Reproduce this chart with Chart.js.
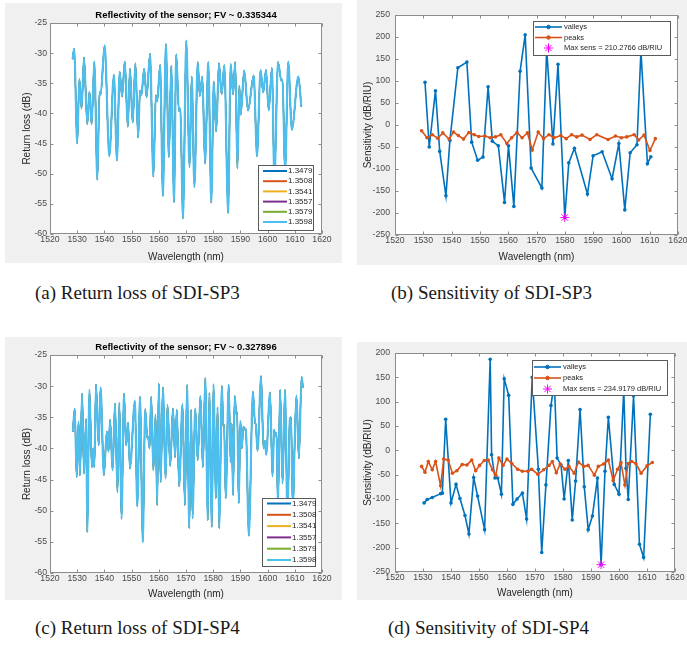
<!DOCTYPE html>
<html>
<head>
<meta charset="utf-8">
<script src="https://cdn.jsdelivr.net/npm/chart.js@4.4.1/dist/chart.umd.min.js"></script>
<style>
  body { margin: 0; background: #fff; width: 687px; height: 650px; position: relative; overflow: hidden; }
  canvas { position: absolute; }
  .cap { position: absolute; font-family: "Liberation Serif", "Times New Roman", serif; font-size: 19px; line-height: 20px; color: #1a1a1a; white-space: nowrap; }
</style>
</head>
<body>
<canvas id="chartA" width="337" height="260" style="left:5px;top:3px"></canvas>
<canvas id="chartB" width="330" height="265" style="left:357px;top:0px"></canvas>
<canvas id="chartC" width="337" height="263" style="left:5px;top:337px"></canvas>
<canvas id="chartD" width="330" height="258" style="left:357px;top:342px"></canvas>
<div class="cap" style="left:35px;top:283px">(a) Return loss of SDI-SP3</div>
<div class="cap" style="left:391px;top:283px">(b) Sensitivity of SDI-SP3</div>
<div class="cap" style="left:35px;top:618px">(c) Return loss of SDI-SP4</div>
<div class="cap" style="left:388px;top:618px">(d) Sensitivity of SDI-SP4</div>
<script>
'use strict';

// DATA

let wavelengthTicks = [1520, 1530, 1540, 1550, 1560, 1570, 1580, 1590, 1600, 1610, 1620];
let returnLossTicks = [-60, -55, -50, -45, -40, -35, -30, -25];
let sensTicksB = [-250, -200, -150, -100, -50, 0, 50, 100, 150, 200, 250];
let sensTicksD = [-250, -200, -150, -100, -50, 0, 50, 100, 150, 200];

let riLabels = ['1.3479', '1.3508', '1.3541', '1.3557', '1.3579', '1.3598'];
let riColors = ['#0072BD', '#D95319', '#EDB120', '#7E2F8E', '#77AC30', '#4DBEEE'];

// (a) return loss SDI-SP3, turning points of the spectrum
let rlA_wl = [1528.3, 1528.9, 1530.0, 1530.8, 1531.6, 1532.5, 1533.7, 1534.5, 1535.3, 1536.3,
  1537.4, 1538.2, 1538.6, 1540.1, 1541.8, 1543.5, 1544.6, 1545.6, 1546.5, 1547.5,
  1548.6, 1549.4, 1550.4, 1551.4, 1552.4, 1553.1, 1553.6, 1554.6, 1555.5, 1556.8,
  1558.0, 1558.9, 1559.4, 1560.5, 1561.5, 1562.6, 1563.7, 1564.6, 1565.6, 1566.4,
  1567.4, 1567.9, 1568.9, 1570.1, 1571.3, 1572.1, 1573.1, 1574.3, 1575.1, 1576.0,
  1577.0, 1578.2, 1579.3, 1580.2, 1581.1, 1582.1, 1583.1, 1584.1, 1585.5, 1586.4,
  1587.3, 1588.1, 1588.9, 1589.6, 1590.1, 1591.4, 1592.8, 1594.9, 1596.1, 1597.4,
  1598.4, 1599.4, 1600.4, 1601.6, 1602.5, 1603.8, 1605.1, 1605.5, 1606.4, 1607.6,
  1608.9, 1611.3, 1612.4];
let rlA_db = [-31.0, -29.3, -45.0, -34.3, -39.2, -30.7, -41.8, -36.4, -41.8, -31.4,
  -51.0, -36.4, -36.9, -28.7, -47.1, -33.6, -47.8, -33.1, -37.2, -31.4,
  -42.2, -32.6, -41.5, -31.7, -44.0, -36.2, -37.0, -32.6, -37.3, -30.1,
  -50.5, -37.0, -38.0, -32.0, -53.7, -28.5, -47.2, -32.1, -54.7, -30.2,
  -39.6, -39.2, -57.4, -27.9, -48.9, -33.9, -52.2, -31.5, -37.1, -33.9,
  -48.3, -31.5, -54.8, -34.7, -43.0, -31.7, -36.8, -32.0, -56.5, -31.8,
  -36.8, -31.5, -49.1, -35.4, -40.2, -32.9, -39.5, -33.7, -47.1, -32.8,
  -36.5, -32.8, -39.5, -32.5, -51.0, -31.5, -34.6, -34.4, -50.0, -31.4,
  -42.7, -33.9, -38.9];

// (b) sensitivity SDI-SP3
let valleysB_wl = [1530.6, 1532.1, 1534.3, 1535.8, 1538.0, 1539.4, 1542.2, 1545.4, 1547.1, 1549.2,
  1551.1, 1552.9, 1554.4, 1556.5, 1558.7, 1560.1, 1562.0, 1564.2, 1566.0, 1568.1,
  1571.9, 1573.6, 1575.8, 1577.6, 1580.0, 1581.4, 1583.4, 1588.0, 1590.0, 1593.2,
  1596.7, 1599.1, 1601.2, 1603.1, 1605.5, 1606.9, 1609.2, 1610.4];
let valleysB_s = [97, -50, 78, -60, -161, -35, 130, 143, -39, -80,
  -73, 87, -37, -47, -176, -47, -185, 122, 205, -98,
  -143, 172, -43, 138, -210.2766, -86, -53, -157, -70, -61,
  -122, -42, -193, -63, -45, 168, -88, -72];
let peaksB_wl = [1529.4, 1531.3, 1533.2, 1535.1, 1536.9, 1539.1, 1540.7, 1542.4, 1544.2, 1546.1,
  1548.0, 1549.6, 1551.8, 1553.6, 1555.5, 1557.4, 1559.5, 1561.2, 1563.1, 1564.9,
  1566.8, 1568.5, 1570.6, 1572.5, 1574.4, 1576.2, 1578.6, 1580.5, 1582.4, 1584.2,
  1586.1, 1588.9, 1591.3, 1595.3, 1597.9, 1600.0, 1601.9, 1604.5, 1606.1, 1608.0,
  1610.1, 1612.0];
let peaksB_s = [-13, -29, -22, -30, -18, -32, -16, -24, -32, -17,
  -22, -26, -25, -29, -27, -22, -42, -29, -17, -29,
  -18, -57, -16, -31, -22, -29, -24, -31, -22, -27,
  -23, -33, -22, -33, -25, -29, -27, -22, -34, -23,
  -58, -31];

// (c) return loss SDI-SP4
let rlC_wl = [1528.4, 1529.1, 1529.8, 1530.5, 1531.0, 1531.8, 1532.5, 1533.3, 1533.7, 1534.5,
  1535.4, 1535.9, 1536.3, 1536.9, 1537.9, 1538.6, 1539.8, 1540.9, 1541.5, 1542.1,
  1543.0, 1543.9, 1544.8, 1545.5, 1546.3, 1547.2, 1548.0, 1548.7, 1549.4, 1551.2,
  1552.1, 1553.1, 1554.1, 1555.0, 1555.8, 1556.1, 1556.6, 1557.2, 1558.0, 1558.8,
  1559.4, 1560.0, 1560.7, 1561.5, 1562.5, 1563.2, 1564.2, 1565.2, 1566.0, 1566.6,
  1567.5, 1568.7, 1569.6, 1570.4, 1571.2, 1571.9, 1572.4, 1573.4, 1574.3, 1575.3,
  1576.2, 1577.1, 1578.0, 1578.6, 1579.5, 1580.1, 1581.0, 1581.6, 1582.2, 1583.2,
  1583.7, 1584.0, 1584.6, 1585.7, 1586.4, 1586.8, 1587.3, 1587.9, 1588.5, 1588.8,
  1589.4, 1590.0, 1590.5, 1591.1, 1591.6, 1592.0, 1593.1, 1594.6, 1595.4, 1595.6,
  1596.3, 1597.6, 1598.5, 1599.0, 1599.5, 1600.9, 1601.8, 1602.4, 1602.8, 1603.3,
  1603.8, 1604.6, 1605.5, 1606.4, 1607.3, 1608.2, 1608.6, 1609.3, 1609.9, 1610.6,
  1611.5, 1612.5, 1613.0];
let rlC_db = [-37.3, -33.6, -44.6, -35.7, -44.3, -31.2, -44.0, -35.3, -53.4, -30.6,
  -43.0, -40.0, -43.0, -29.7, -39.5, -30.2, -44.3, -37.3, -40.5, -35.4,
  -43.5, -32.8, -47.0, -32.7, -51.3, -31.2, -39.5, -35.9, -43.2, -32.4,
  -49.3, -31.7, -55.0, -33.7, -38.4, -38.1, -40.0, -31.7, -43.5, -34.6,
  -49.1, -29.6, -45.4, -30.2, -44.8, -33.0, -42.8, -33.6, -41.4, -33.8,
  -46.1, -32.9, -49.1, -29.8, -52.8, -33.8, -51.2, -33.6, -41.9, -31.6,
  -43.0, -28.7, -51.5, -31.1, -52.6, -29.7, -48.0, -33.4, -52.8, -30.0,
  -36.5, -36.2, -48.0, -29.8, -42.2, -36.0, -47.5, -31.6, -34.5, -34.2,
  -48.8, -35.6, -40.0, -36.5, -37.0, -36.8, -54.0, -30.9, -36.0, -35.9,
  -40.4, -28.4, -40.0, -38.8, -41.0, -31.0, -44.5, -37.0, -38.0, -37.5,
  -49.5, -30.6, -45.6, -30.6, -50.5, -35.2, -35.0, -50.0, -40.0, -31.5,
  -41.6, -28.5, -30.3];

// (d) sensitivity SDI-SP4
let valleysD_wl = [1530.4, 1531.5, 1533.3, 1536.3, 1536.9, 1538.1, 1540.0, 1541.8, 1543.2, 1545.0,
  1546.4, 1548.1, 1549.5, 1552.0, 1554.0, 1554.5, 1555.7, 1556.7, 1558.0, 1559.0,
  1560.6, 1562.1, 1563.6, 1565.5, 1567.0, 1569.0, 1571.2, 1572.4, 1573.9, 1575.7,
  1576.9, 1577.9, 1579.3, 1580.4, 1581.9, 1583.3, 1584.5, 1586.1, 1587.6, 1589.0,
  1590.5, 1592.3, 1593.6, 1595.0, 1596.2, 1598.3, 1600.0, 1601.7, 1602.5, 1603.3,
  1605.2, 1607.3, 1608.8, 1611.2];
let valleysD_s = [-108, -101, -97, -89, -88, 64, -108, -70, -99, -134,
  -172, -56, -94, -163, 187, -9, -57, -57, -90, 147,
  113, -111, -100, -88, -141, 150, -39, -210, -71, 92,
  140, -16, -30, -100, -21, -143, -63, 84, -75, -163,
  -135, -57, -234.9179, -43, 68, -70, -90, 125, -37, -101,
  112, -193, -220, 74];
let peaksD_wl = [1529.5, 1530.7, 1531.9, 1533.3, 1534.5, 1536.3, 1537.4, 1539.0, 1540.5, 1542.1,
  1544.0, 1545.7, 1547.4, 1548.8, 1550.2, 1551.9, 1553.3, 1554.8, 1556.0, 1557.1,
  1558.6, 1560.0, 1561.7, 1563.8, 1565.5, 1567.4, 1568.8, 1571.0, 1573.1, 1575.0,
  1576.2, 1577.6, 1579.0, 1580.7, 1582.1, 1584.0, 1585.5, 1587.4, 1589.0, 1591.2,
  1592.6, 1594.5, 1596.2, 1597.9, 1599.5, 1600.7, 1602.1, 1603.3, 1604.5, 1606.0,
  1607.9, 1610.0, 1611.9];
let peaksD_s = [-33, -45, -23, -40, -23, -73, -18, -20, -47, -42,
  -29, -30, -20, -42, -31, -21, -20, -40, -51, -16,
  -31, -18, -27, -39, -43, -43, -39, -49, -40, -31,
  -23, -46, -28, -39, -33, -47, -24, -33, -31, -51,
  -33, -28, -20, -62, -39, -25, -71, -27, -23, -27,
  -47, -32, -25];

// HELPERS

const sansFamily = '"Liberation Sans", Arial, Helvetica, sans-serif';
const tickFont = { family: sansFamily, size: 8.7 };
const labelFont = { family: sansFamily, size: 10 };
const tickColor = '#4a4a4a';
const labelColor = '#262626';

function toPoints(xs, ys) {
  return xs.map((x, i) => ({ x: x, y: ys[i] }));
}

// grey figure, white axes, matlab box with inward ticks
const axesFrame = {
  id: 'axesFrame',
  beforeDraw(chart) {
    const { ctx, chartArea: a, width, height } = chart;
    ctx.save();
    ctx.fillStyle = '#f0f0f0';
    ctx.fillRect(0, 0, width, height);
    ctx.fillStyle = '#ffffff';
    ctx.fillRect(a.left, a.top, a.right - a.left, a.bottom - a.top);
    ctx.restore();
  },
  afterDatasetsDraw(chart) {
    const { ctx, chartArea: a, scales } = chart;
    const l = Math.round(a.left) + 0.5;
    const r = Math.round(a.right) - 0.5;
    const t = Math.round(a.top) + 0.5;
    const b = Math.round(a.bottom) - 0.5;
    ctx.save();
    ctx.strokeStyle = '#8c8c8c';
    ctx.lineWidth = 1;
    ctx.strokeRect(l, t, r - l, b - t);
    ctx.beginPath();
    for (const tick of scales.x.ticks) {
      const px = Math.round(scales.x.getPixelForValue(tick.value)) + 0.5;
      ctx.moveTo(px, b); ctx.lineTo(px, b - 3);
      ctx.moveTo(px, t); ctx.lineTo(px, t + 3);
    }
    for (const tick of scales.y.ticks) {
      const py = Math.round(scales.y.getPixelForValue(tick.value)) + 0.5;
      ctx.moveTo(l, py); ctx.lineTo(l + 3, py);
      ctx.moveTo(r, py); ctx.lineTo(r - 3, py);
    }
    ctx.stroke();
    ctx.restore();
  }
};

// legend box placed inside the axes like matlab does
const boxLegend = {
  id: 'boxLegend',
  afterDraw(chart, args, opts) {
    if (!opts.box) return;
    const ctx = chart.ctx;
    const [bx, by, bw, bh] = opts.box;
    ctx.save();
    ctx.fillStyle = '#ffffff';
    ctx.fillRect(bx, by, bw, bh);
    ctx.strokeStyle = '#5a5a5a';
    ctx.lineWidth = 1;
    ctx.strokeRect(bx + 0.5, by + 0.5, bw, bh);
    ctx.font = opts.fontSize + 'px ' + sansFamily;
    ctx.textBaseline = 'middle';
    ctx.textAlign = 'left';
    chart.data.datasets.forEach((ds, i) => {
      const y = opts.firstRow + i * opts.rowGap;
      const x0 = opts.sample[0];
      const x1 = opts.sample[1];
      if (ds.showLine !== false) {
        ctx.strokeStyle = ds.borderColor;
        ctx.lineWidth = opts.lineWidth || ds.borderWidth;
        ctx.beginPath();
        ctx.moveTo(x0, y);
        ctx.lineTo(x1, y);
        ctx.stroke();
      }
      if (ds.pointRadius > 0) {
        ctx.strokeStyle = ds.borderColor;
        ctx.fillStyle = ds.backgroundColor;
        ctx.lineWidth = 1;
        Chart.helpers.drawPoint(ctx, {
          pointStyle: ds.pointStyle || 'circle',
          radius: ds.pointRadius,
          rotation: 0,
          borderWidth: 1,
        }, (x0 + x1) / 2, y);
      }
      ctx.fillStyle = '#262626';
      ctx.fillText(ds.label, opts.textX, y);
    });
    ctx.restore();
  }
};

function makeOptions(cfg) {
  return {
    responsive: false,
    animation: false,
    events: [],
    layout: { padding: cfg.padding },
    plugins: {
      legend: { display: false },
      tooltip: { enabled: false },
      title: cfg.title ? {
        display: true,
        text: cfg.title,
        fullSize: false,
        color: '#000000',
        font: { family: sansFamily, size: 9.5, weight: 'bold' },
        padding: cfg.titlePad,
      } : { display: false },
      boxLegend: cfg.legend,
    },
    scales: {
      x: {
        type: 'linear',
        min: 1520,
        max: 1620,
        afterBuildTicks: (s) => { s.ticks = wavelengthTicks.map((v) => ({ value: v })); },
        afterFit: (s) => { s.height = cfg.xHeight; s.paddingLeft = 0; s.paddingRight = 0; },
        grid: { display: false, drawTicks: false },
        border: { display: false },
        ticks: { padding: 0, maxRotation: 0, autoSkip: false, font: tickFont, color: tickColor, callback: (v) => String(v) },
        title: { display: true, text: 'Wavelength (nm)', font: labelFont, color: labelColor, padding: { top: 0, bottom: cfg.xTitlePad } },
      },
      y: {
        type: 'linear',
        min: cfg.yTicks[0],
        max: cfg.yTicks[cfg.yTicks.length - 1],
        afterBuildTicks: (s) => { s.ticks = cfg.yTicks.map((v) => ({ value: v })); },
        afterFit: (s) => { s.width = cfg.yWidth; s.paddingTop = 0; s.paddingBottom = 0; },
        grid: { display: false, drawTicks: false },
        border: { display: false },
        ticks: { padding: cfg.yTickPad, autoSkip: false, font: tickFont, color: tickColor, callback: (v) => String(v) },
        title: { display: true, text: cfg.yLabel, font: labelFont, color: labelColor, padding: { top: cfg.yTitlePad, bottom: 0 } },
      },
    },
  };
}

// the six index curves overlap almost everywhere; the last one (light blue) sits on top
function returnLossDatasets(wl, db) {
  let points = toPoints(wl, db);
  let last = riLabels.length - 1;
  return riLabels.map((label, i) => ({
    label: label,
    data: points,
    borderColor: riColors[i],
    backgroundColor: riColors[i],
    borderWidth: i === last ? 2.1 : 1.2,
    pointRadius: 0,
    cubicInterpolationMode: 'monotone',
    order: last - i,
  }));
}

function sensitivityDatasets(vWl, vS, pWl, pS) {
  let minValue = Math.min(...vS);
  let minIndex = vS.indexOf(minValue);
  return [
    {
      label: 'valleys',
      data: toPoints(vWl, vS),
      borderColor: '#0072BD',
      backgroundColor: '#0072BD',
      borderWidth: 1.6,
      pointRadius: 1.8,
      pointBorderWidth: 0,
      order: 2,
    },
    {
      label: 'peaks',
      data: toPoints(pWl, pS),
      borderColor: '#D95319',
      backgroundColor: '#D95319',
      borderWidth: 1.6,
      pointRadius: 1.8,
      pointBorderWidth: 0,
      order: 1,
    },
    {
      label: `Max sens = ${Math.abs(minValue).toFixed(4)} dB/RIU`,
      data: [{ x: vWl[minIndex], y: minValue }],
      showLine: false,
      pointStyle: 'star',
      pointRadius: 4.5,
      borderColor: '#FF00FF',
      backgroundColor: '#FF00FF',
      borderWidth: 1,
      order: 0,
    },
  ];
}

// EXECUTABLE CODE

let chartA = new Chart(document.getElementById('chartA'), {
  type: 'line',
  data: { datasets: returnLossDatasets(rlA_wl, rlA_db) },
  plugins: [axesFrame, boxLegend],
  options: makeOptions({
    title: 'Reflectivity of the sensor; FV ~ 0.335344',
    titlePad: { top: 6.3, bottom: 2.3 },
    padding: { top: 0, right: 20, bottom: 0, left: 0 },
    yTicks: returnLossTicks,
    yLabel: 'Return loss (dB)',
    yWidth: 45, xHeight: 29, yTickPad: 3, yTitlePad: 16, xTitlePad: 0,
    legend: { box: [253, 162, 55, 65], firstRow: 168, rowGap: 10.2, sample: [258, 282], textX: 283, fontSize: 8, lineWidth: 2 },
  }),
});

let chartB = new Chart(document.getElementById('chartB'), {
  type: 'line',
  data: { datasets: sensitivityDatasets(valleysB_wl, valleysB_s, peaksB_wl, peaksB_s) },
  plugins: [axesFrame, boxLegend],
  options: makeOptions({
    padding: { top: 15, right: 9, bottom: 0, left: 0 },
    yTicks: sensTicksB,
    yLabel: 'Sensitivity (dB/RIU)',
    yWidth: 38, xHeight: 30, yTickPad: 5, yTitlePad: 5, xTitlePad: 2,
    legend: { box: [176, 21, 137, 34], firstRow: 27, rowGap: 10.5, sample: [178, 205], textX: 207, fontSize: 7.5 },
  }),
});

let chartC = new Chart(document.getElementById('chartC'), {
  type: 'line',
  data: { datasets: returnLossDatasets(rlC_wl, rlC_db) },
  plugins: [axesFrame, boxLegend],
  options: makeOptions({
    title: 'Reflectivity of the sensor; FV ~ 0.327896',
    titlePad: { top: 4.3, bottom: 2.3 },
    padding: { top: 0, right: 20, bottom: 0, left: 0 },
    yTicks: returnLossTicks,
    yLabel: 'Return loss (dB)',
    yWidth: 45, xHeight: 27, yTickPad: 3, yTitlePad: 16, xTitlePad: 0,
    legend: { box: [257, 161, 53, 68], firstRow: 166.5, rowGap: 11.3, sample: [262, 286], textX: 287, fontSize: 8, lineWidth: 2 },
  }),
});

let chartD = new Chart(document.getElementById('chartD'), {
  type: 'line',
  data: { datasets: sensitivityDatasets(valleysD_wl, valleysD_s, peaksD_wl, peaksD_s) },
  plugins: [axesFrame, boxLegend],
  options: makeOptions({
    padding: { top: 11, right: 12, bottom: 0, left: 0 },
    yTicks: sensTicksD,
    yLabel: 'Sensitivity (dB/RIU)',
    yWidth: 38, xHeight: 28, yTickPad: 5, yTitlePad: 5, xTitlePad: 1,
    legend: { box: [175, 18, 135, 35], firstRow: 25, rowGap: 11, sample: [177, 204], textX: 206, fontSize: 7.5 },
  }),
});
</script>
</body>
</html>
